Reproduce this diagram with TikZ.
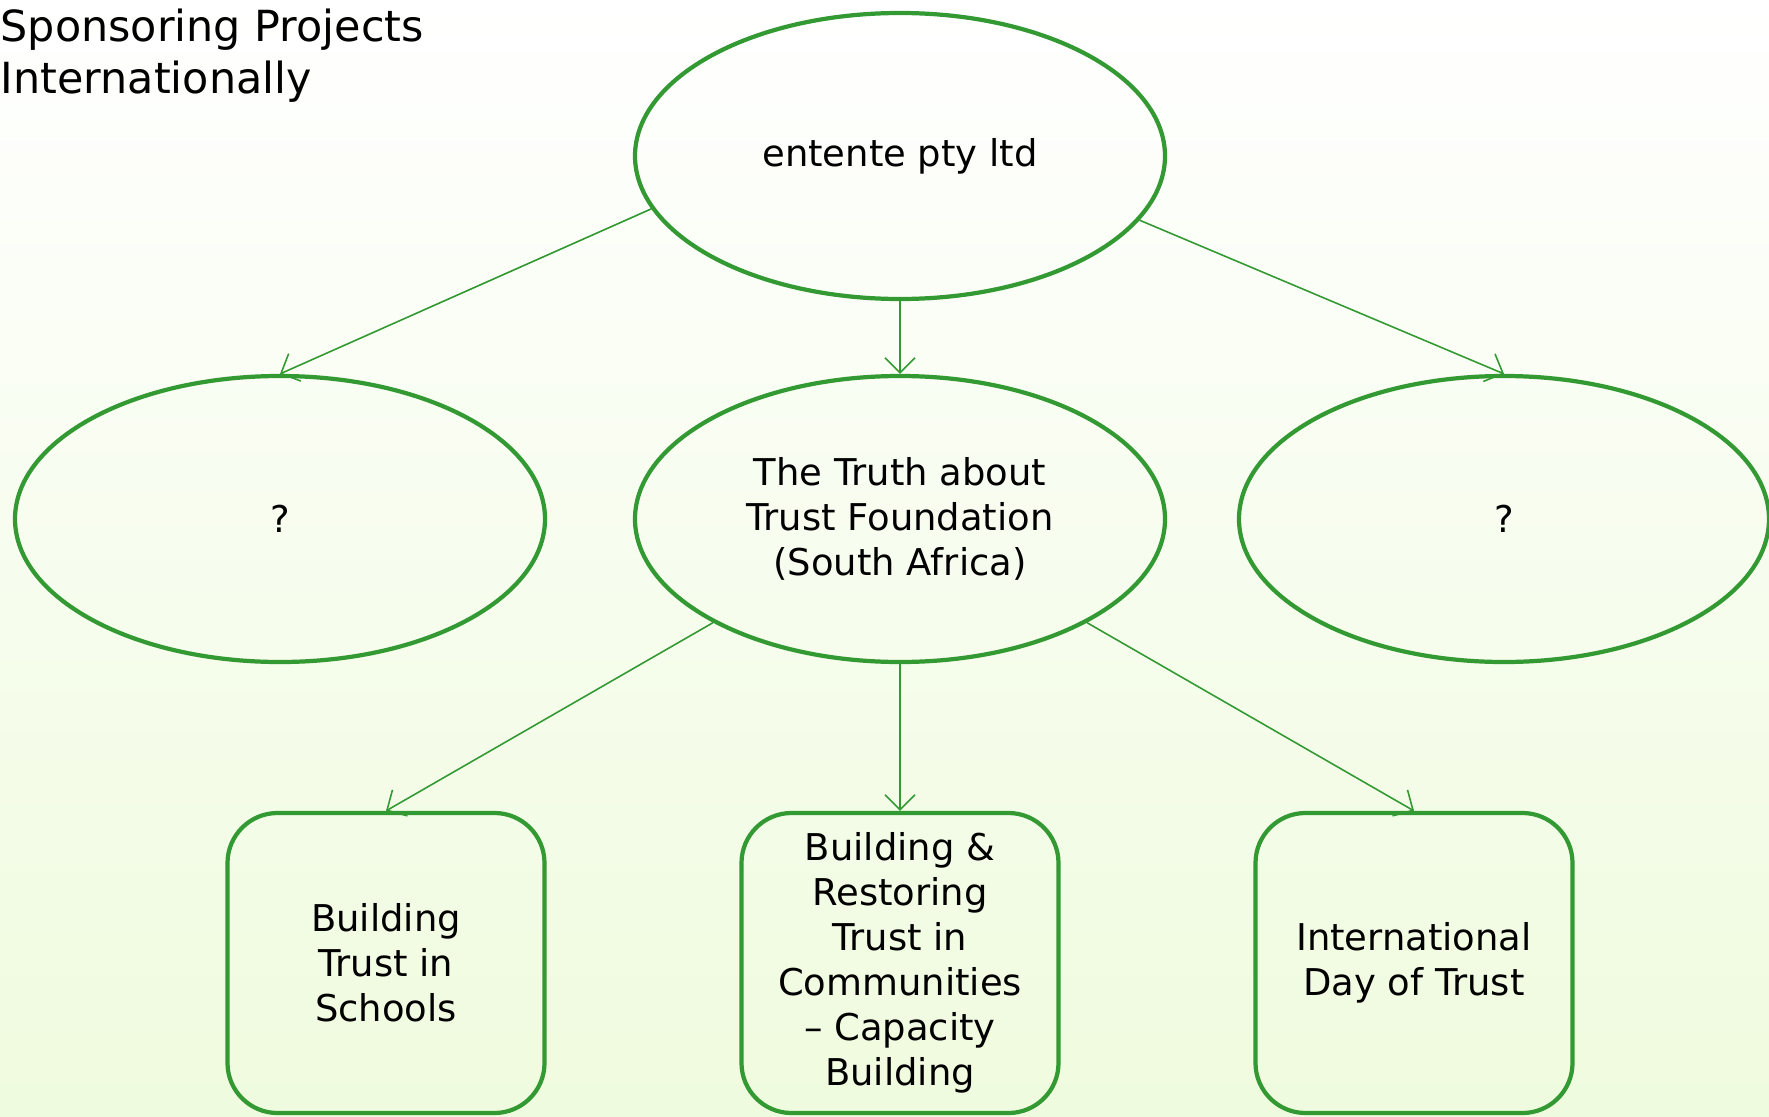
\documentclass[tikz,border=0pt]{standalone}
\usepackage{fontspec}
\setmainfont{DejaVu Sans}
\usetikzlibrary{positioning, arrows.meta, shapes.geometric}
\definecolor{chartgreen}{RGB}{51,153,51}
\definecolor{bggreen}{RGB}{239,251,222}

\begin{document}
\begin{tikzpicture}
    [
        node distance=3.63cm and 6.2cm, on grid,
        oval_node/.style={ellipse, draw=chartgreen, line width=1.2pt, minimum width=5.3cm, minimum height=2.86cm, inner sep=0pt, align=center, font=\fontsize{10.5}{12.8}\selectfont},
        box_node/.style={rectangle, rounded corners=5mm, draw=chartgreen, line width=1.2pt, minimum width=3.17cm, minimum height=3.0cm, inner sep=0pt, align=center, font=\fontsize{10.5}{12.8}\selectfont},
        link/.style={-{Straight Barb[length=1.5mm, width=3mm]}, line width=0.45pt, color=chartgreen},
    ]
        \useasboundingbox (0,0) rectangle (17.69,-11.17);
        \shade[top color=white, bottom color=bggreen] (0,0) rectangle (17.69,-11.17);
        \node[anchor=north west, inner sep=0pt, align=left, font=\fontsize{12.2}{14.8}\selectfont] (title) at (0,-0.08) {Sponsoring Projects\\Internationally} ;
        \node[oval_node] (entente) at (9.0,-1.56) {entente pty ltd} ;
        \node[oval_node] (truth) [below = of entente] {The Truth about\\Trust Foundation\\(South Africa)} ;
        \node[oval_node] (unknown_left) [left = 6.2cm of truth] {?} ;
        \node[oval_node] (unknown_right) [right = 6.04cm of truth] {?} ;
        \node[box_node] (schools) [below left = 4.44cm and 5.14cm of truth] {Building\\Trust in\\Schools} ;
        \node[box_node] (communities) [below = 4.44cm of truth] {Building \&\\Restoring\\Trust in\\Communities\\– Capacity\\Building} ;
        \node[box_node] (day) [below right = 4.44cm and 5.14cm of truth] {International\\Day of Trust} ;
        \draw[link] (entente.192) -- (unknown_left.north) ;
        \draw[link] (entente.south) -- (truth.north) ;
        \draw[link] (entente.345) -- (unknown_right.north) ;
        \draw[link] (truth.209) -- (schools.north) ;
        \draw[link] (truth.south) -- (communities.north) ;
        \draw[link] (truth.331) -- (day.north) ;
    \end{tikzpicture}
\end{document}
